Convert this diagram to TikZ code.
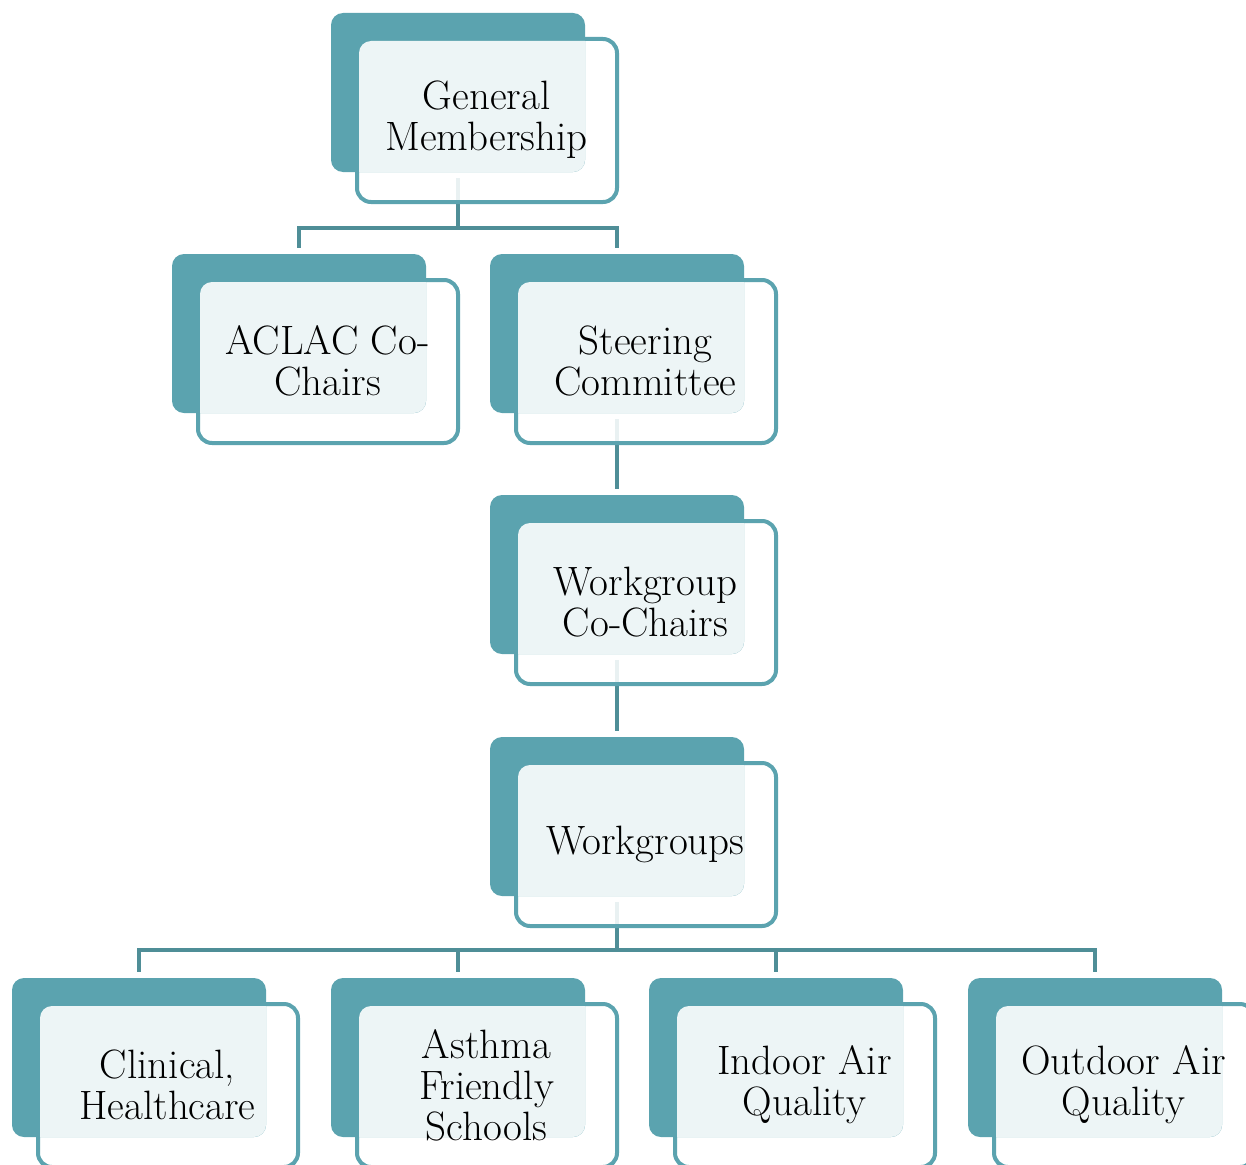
\documentclass[tikz,border=0pt]{standalone}
\usetikzlibrary{calc}
\definecolor{backteal}{HTML}{5BA3AF}
\definecolor{conncol}{HTML}{4F8E97}
\definecolor{lightfill}{HTML}{EDF5F6}
\pgfdeclarelayer{bg}
\pgfsetlayers{bg,main}
\tikzset{
  frontfill/.style={fill=white, fill opacity=0.88},
  frontline/.style={draw=backteal, line width=4pt, rounded corners=14pt},
  backbox/.style={fill=backteal, rounded corners=12pt},
  lightbox/.style={fill=lightfill, rounded corners=12pt},
  boxlabel/.style={align=center, inner sep=0pt, font=\fontsize{41}{41}\selectfont},
  conn/.style={draw=conncol, line width=4pt, line join=miter}
}
\newcommand\orgbox[4]{%
  \begin{scope}[shift={(#2,#3)}]
    \fill[frontfill, rounded corners=14pt] (26,26) rectangle (286,189);
    \draw[frontline] (26,26) rectangle (286,189);
    \fill[backbox] (0,0) rectangle (254,159);
    \begin{scope}
      \clip[rounded corners=12pt] (0,0) rectangle (254,159);
      \fill[lightbox] (28,28) rectangle (284,187);
    \end{scope}
    \node[boxlabel] (#1) at (155.5,107) {#4};
    \coordinate (#1-t) at (127,-6);
    \coordinate (#1-b) at (127,165);
  \end{scope}}
\begin{document}
\begin{tikzpicture}[x=1pt,y=-1pt]
  \useasboundingbox (0,0) rectangle (1246,1164);
  \clip (0,0) rectangle (1246,1164);
  \orgbox{gm}{331}{13}{General\\Membership}
  \orgbox{aclac}{172}{254}{ACLAC Co-\\Chairs}
  \orgbox{st}{490}{254}{Steering\\Committee}
  \orgbox{wcc}{490}{495}{Workgroup\\Co-Chairs}
  \orgbox{wg}{490}{737}{Workgroups}
  \orgbox{cl}{12}{978}{Clinical,\\Healthcare}
  \orgbox{af}{331}{978}{Asthma\\Friendly\\Schools}
  \orgbox{ia}{649}{978}{Indoor Air\\Quality}
  \orgbox{oa}{968}{978}{Outdoor Air\\Quality}
  \begin{pgfonlayer}{bg}
    \draw[conn] (gm-b) -- ++(0,50) -| (aclac-t);
    \draw[conn] (gm-b) -- ++(0,50) -| (st-t);
    \draw[conn] (st-b) -- (wcc-t);
    \draw[conn] (wcc-b) -- (wg-t);
    \draw[conn] (wg-b) -- ++(0,48) -| (cl-t);
    \draw[conn] (wg-b) -- ++(0,48) -| (af-t);
    \draw[conn] (wg-b) -- ++(0,48) -| (ia-t);
    \draw[conn] (wg-b) -- ++(0,48) -| (oa-t);
  \end{pgfonlayer}
\end{tikzpicture}
\end{document}
